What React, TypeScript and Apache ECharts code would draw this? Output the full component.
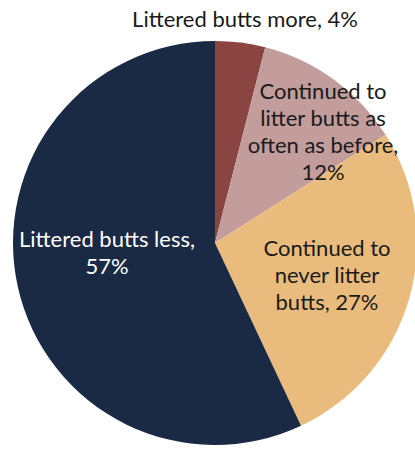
import React, { useEffect, useRef } from "react";
import * as echarts from "echarts";

const categories = [
  "Littered butts more",
  "Continued to litter butts as often as before",
  "Continued to never litter butts",
  "Littered butts less",
];
const values = [4, 12, 27, 57];
const labelTexts = [
  "Littered butts more, 4%",
  "Continued to\nlitter butts as\noften as before,\n12%",
  "Continued to\nnever litter\nbutts, 27%",
  "Littered butts less,\n57%",
];
const colors = ["#8A4442", "#C39C9C", "#E9BB7C", "#1A2944"];
const labelColors = ["#1a1a1a", "#1a1a1a", "#1a1a1a", "#ffffff"];
const labelPos = [
  [245, 18],
  [323, 131],
  [327, 274],
  [107, 252],
];

export default function App() {
  const ref = useRef<HTMLDivElement>(null);
  useEffect(() => {
    document.body.style.margin = "0";
    const chart = echarts.init(ref.current!, null, { renderer: "svg" });
    chart.setOption({
      animation: false,
      backgroundColor: "#ffffff",
      series: [
        {
          type: "pie",
          center: [215, 243],
          radius: 202,
          startAngle: 90,
          clockwise: true,
          avoidLabelOverlap: false,
          data: categories.map((name, i) => ({
            name,
            value: values[i],
            itemStyle: { color: colors[i], borderWidth: 0 },
            label: {
              show: true,
              position: "inside",
              formatter: labelTexts[i],
              color: labelColors[i],
              fontFamily: "Lato",
              fontSize: 22,
              lineHeight: 27,
              align: "center",
            },
          })),
          labelLine: { show: false },
          labelLayout: (params: any) => ({
            x: labelPos[params.dataIndex][0],
            y: labelPos[params.dataIndex][1],
            align: "center",
            verticalAlign: "middle",
          }),
        },
      ],
    });
    return () => chart.dispose();
  }, []);
  return <div ref={ref} style={{ width: 415, height: 450 }} />;
}
